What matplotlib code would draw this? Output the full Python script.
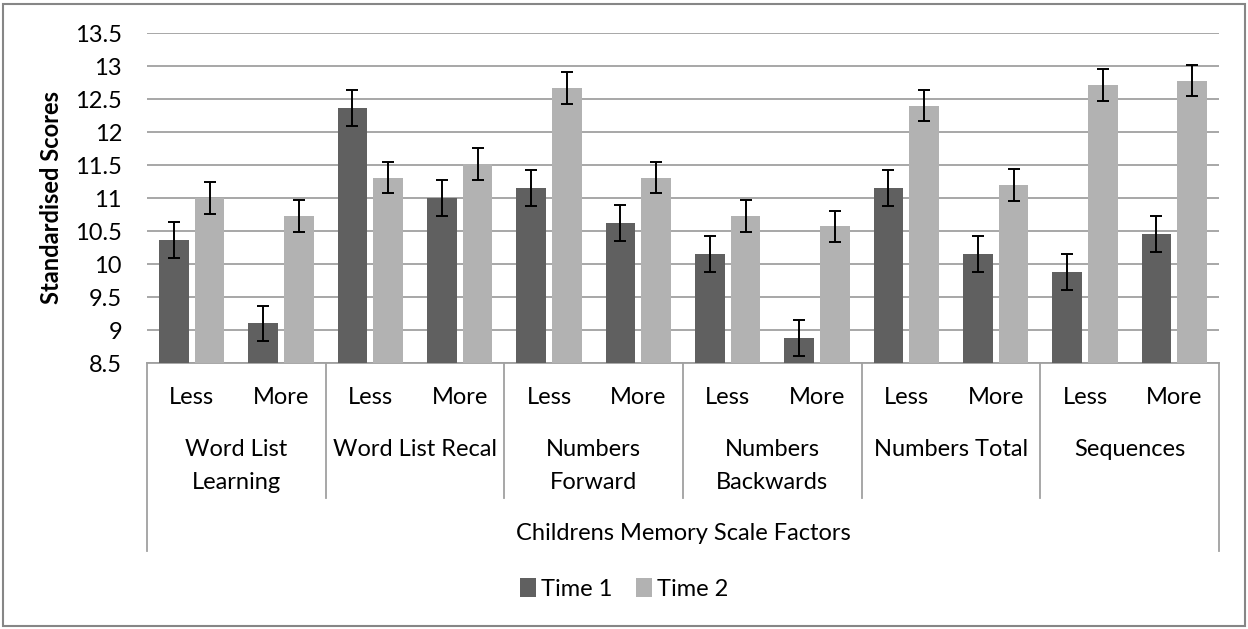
import matplotlib
matplotlib.use("Agg")
import matplotlib.pyplot as plt
import numpy as np
from matplotlib.patches import Rectangle

plt.rcParams['font.family'] = ['Lato', 'DejaVu Sans']

groups = ["Word List\nLearning", "Word List Recal", "Numbers\nForward",
          "Numbers\nBackwards", "Numbers Total", "Sequences"]
levels = ["Less", "More"]
time1 = [10.36, 9.10, 12.36, 11.00, 11.15, 10.62, 10.15, 8.88, 11.15, 10.15, 9.88, 10.45]
time2 = [11.00, 10.73, 11.31, 11.52, 12.67, 11.31, 10.73, 10.57, 12.40, 11.20, 12.71, 12.78]
err1 = [0.27] * 12
err2 = [0.24] * 12
yticks = [8.5, 9, 9.5, 10, 10.5, 11, 11.5, 12, 12.5, 13, 13.5]
ytick_labels = ["8.5", "9", "9.5", "10", "10.5", "11", "11.5", "12", "12.5", "13", "13.5"]

c1 = "#606060"
c2 = "#b2b2b2"
grid_c = "#a0a0a0"
fs = 17

W, H = 1248, 629
fig = plt.figure(figsize=(W / 100, H / 100), dpi=100)
ax = fig.add_axes([147 / W, 1 - 363 / H, (1219 - 147) / W, (363 - 33) / H])

x = np.arange(len(time1))
bw = 0.33
ax.bar(x - 0.2, time1, width=bw, color=c1, zorder=3, label="Time 1")
ax.bar(x + 0.2, time2, width=bw, color=c2, zorder=3, label="Time 2")
ax.errorbar(x - 0.2, time1, yerr=err1, fmt="none", ecolor="black", elinewidth=1.4,
            capsize=4.5, capthick=1.4, zorder=4)
ax.errorbar(x + 0.2, time2, yerr=err2, fmt="none", ecolor="black", elinewidth=1.4,
            capsize=4.5, capthick=1.4, zorder=4)

ax.set_xlim(-0.5, len(time1) - 0.5)
ax.set_ylim(8.5, 13.5)
ax.set_yticks(yticks)
ax.set_yticklabels(ytick_labels, fontsize=fs)
ax.tick_params(axis="y", length=0, pad=18)
ax.set_xticks([])
for s in ["top", "right", "left"]:
    ax.spines[s].set_visible(False)
ax.spines["bottom"].set_color(grid_c)
ax.spines["bottom"].set_linewidth(1.3)
ax.yaxis.grid(True, color=grid_c, linewidth=1.3, zorder=0)
ax.set_axisbelow(True)

trans = ax.get_xaxis_transform()
axh = 330.0
def ay(py):
    return -(py - 363) / axh

# category table lines
for b in np.arange(1.5, len(time1) - 1, 2):
    ax.plot([b, b], [0, ay(498)], transform=trans, color=grid_c, lw=1.3, clip_on=False)
for b in [-0.5, len(time1) - 0.5]:
    ax.plot([b, b], [0, ay(551)], transform=trans, color=grid_c, lw=1.3, clip_on=False)

for i in range(len(time1)):
    ax.text(x[i], ay(398), levels[i % 2], transform=trans, ha="center", va="center",
            fontsize=fs)
for g, name in enumerate(groups):
    yc = 466 if "\n" in name else 450
    ax.text(2 * g + 0.5, ay(yc), name, transform=trans, ha="center", va="center",
            fontsize=fs, linespacing=1.7)
ax.text(5.5, ay(533), "Childrens Memory Scale Factors", transform=trans, ha="center",
        va="center", fontsize=fs)

fig.text(52 / W, 1 - 198 / H, "Standardised Scores", rotation=90, ha="center",
         va="center", fontsize=fs, fontweight="bold")

fig.legend(loc="center", bbox_to_anchor=(0.5, 1 - 589 / H), ncol=2, frameon=False,
           fontsize=fs, handlelength=0.7, handleheight=0.85, handletextpad=0.2,
           columnspacing=1.0)

fig.patches.append(Rectangle((3 / W, 3 / H), 1 - 6 / W, 1 - 7 / H, transform=fig.transFigure,
                             fill=False, edgecolor="#868686", linewidth=1.5))

fig.savefig("out.png", dpi=100, facecolor="white")
